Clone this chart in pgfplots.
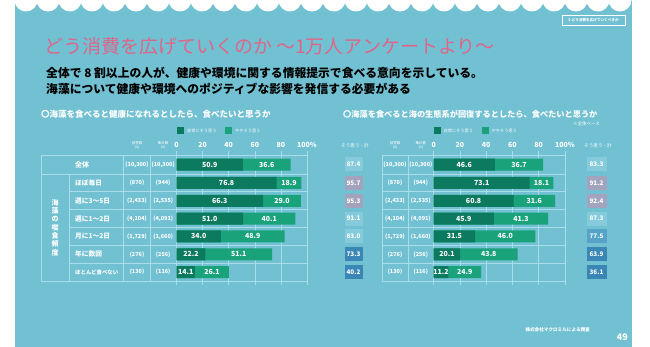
\documentclass[border=0pt]{standalone}
\usepackage{pgfplots}
\pgfplotsset{compat=1.18}
\usepackage{pgfplotstable}
\usepackage{fontspec}
\setmainfont{Noto Sans CJK JP}
\definecolor{bgblue}{HTML}{71C1D3}
\definecolor{gridc}{HTML}{A9DDE9}
\definecolor{dkg}{HTML}{0C7A5E}
\definecolor{ltg}{HTML}{1AA27B}
\definecolor{pinkc}{HTML}{DE6688}
\definecolor{boxlt}{HTML}{85CBDB}
\definecolor{boxgr}{HTML}{A2A4BE}
\definecolor{boxdk}{HTML}{3A87B5}
\definecolor{boxmd}{HTML}{55A3C9}

\pgfplotstableread{
y a b
164.5 50.9 36.6
182.9 76.8 18.9
200.8 66.3 29.0
218.6 51.0 40.1
236.4 34.0 48.9
254.3 22.2 51.1
272.1 14.1 26.1
}\health
\pgfplotstableread{
y a b
164.5 46.6 36.7
182.9 73.1 18.1
200.8 60.8 31.6
218.6 45.9 41.3
236.4 31.5 46.0
254.3 20.1 43.8
272.1 11.2 24.9
}\eco

\pgfplotsset{
  barchart/.style={
    anchor=south west, scale only axis,
    height=126pt, xmin=0, xmax=100, ymin=155, ymax=281, y dir=reverse,
    axis line style={draw=none},
    ytick=\empty,
    xtick={0,20,40,60,80,100},
    xticklabels={0,20,40,60,80,100\%},
    xticklabel pos=right,
    /pgf/number format/assume math mode=true,
    tick align=outside, major tick length=4pt,
    tick style={draw=gridc, line width=0.5pt},
    xticklabel style={font=\bfseries\fontsize{7}{7}\selectfont, text=white},
    xmajorgrids, grid style={draw=gridc, line width=0.6pt},
    clip=false,
  },
  seg/.style={xbar, bar width=12pt, bar shift=0pt, draw=none},
  lab/.style={draw=none, mark=none,
    nodes near coords={\pgfmathprintnumber[fixed,fixed zerofill,precision=1,assume math mode=true]{\pgfplotspointmeta}},
    point meta=explicit,
    every node near coord/.style={anchor=center, text=white, inner sep=0pt, font=\bfseries\fontsize{7}{7}\selectfont}},
}

\begin{document}
\begin{tikzpicture}[x=1pt,y=-1pt]
\useasboundingbox (0,0) rectangle (650,347);
\fill[white] (0,0) rectangle (650,347);
\fill[bgblue] (15,0) rectangle (632,347);
\begin{scope}
\clip (15,0) rectangle (632,20);
\foreach \i in {0,...,27} \fill[white] ({26+22*\i},0) circle (11.5pt);
\end{scope}
% section tag
\draw[white, line width=0.4pt] (562,15) rectangle (625,25);
\node[text=white, font=\bfseries\fontsize{3.6}{4}\selectfont] at (593.5,20) {3.どう消費を広げていくべきか};
% titles
\node[anchor=west, text=pinkc, inner sep=0pt, font=\fontsize{19}{19}\selectfont] at (44,46) {どう消費を広げていくのか ～1万人アンケートより～};
\node[anchor=west, inner sep=0pt, font=\bfseries\fontsize{11.8}{11.8}\selectfont] at (46,73) {全体で 8 割以上の人が、健康や環境に関する情報提示で食べる意向を示している。};
\node[anchor=west, inner sep=0pt, font=\bfseries\fontsize{11.8}{11.8}\selectfont] at (46,89) {海藻について健康や環境へのポジティブな影響を発信する必要がある};
\node[anchor=west, inner sep=0pt, text=white, font=\bfseries\fontsize{8.5}{8.5}\selectfont] at (41,114) {〇海藻を食べると健康になれるとしたら、食べたいと思うか};
\node[anchor=west, inner sep=0pt, text=white, font=\bfseries\fontsize{8.2}{8.2}\selectfont] at (343,114) {〇海藻を食べると海の生態系が回復するとしたら、食べたいと思うか};
\node[anchor=east, inner sep=0pt, text=white, font=\fontsize{4.5}{4.5}\selectfont] at (600,124) {※全体ベース};
% legends
\fill[dkg] (177,127.5) rectangle (184,134.5);
\node[anchor=west, inner sep=0pt, text=white, font=\fontsize{4.2}{4.2}\selectfont] at (187,131) {非常にそう思う};
\fill[ltg] (225,127.5) rectangle (232,134.5);
\node[anchor=west, inner sep=0pt, text=white, font=\fontsize{4.2}{4.2}\selectfont] at (235,131) {ややそう思う};
\fill[dkg] (433.5,127.5) rectangle (440.5,134.5);
\node[anchor=west, inner sep=0pt, text=white, font=\fontsize{4.2}{4.2}\selectfont] at (443.5,131) {非常にそう思う};
\fill[ltg] (481.5,127.5) rectangle (488.5,134.5);
\node[anchor=west, inner sep=0pt, text=white, font=\fontsize{4.2}{4.2}\selectfont] at (491.5,131) {ややそう思う};
% column headers
\foreach \x/\t in {137/回答数, 163.2/集計数, 395/回答数, 420.8/集計数}
  \node[text=white, align=center, inner sep=0pt, font=\fontsize{3.5}{4.2}\selectfont] at (\x,145.5) {\t\\(n)};
\node[text=white, inner sep=0pt, font=\fontsize{4.6}{4.6}\selectfont] at (355,146) {そう思う・計};
\node[text=white, inner sep=0pt, font=\fontsize{4.6}{4.6}\selectfont] at (598,146) {そう思う・計};
% table lines left
\begin{scope}[draw=gridc, line width=0.6pt]
\draw (41,155) -- (307,155);
\draw (41,174) -- (307,174);
\foreach \y in {191.8,209.7,227.5,245.3,263.2} \draw (69,\y) -- (307,\y);
\draw (41,281) -- (307,281);
\draw (41,155) -- (41,281);
\draw (69,174) -- (69,281);
\foreach \x in {123.5,150,176.5} \draw (\x,155) -- (\x,281);
% right
\foreach \y in {155,174,191.8,209.7,227.5,245.3,263.2,281} \draw (382,\y) -- (565,\y);
\foreach \x in {382,408,433.7} \draw (\x,155) -- (\x,281);
\end{scope}
% row labels
\node[text=white, font=\bfseries\fontsize{7}{7}\selectfont] at (82,164.5) {全体};
\node[text=white, align=center, font=\bfseries\fontsize{7}{8.3}\selectfont] at (55,227.5) {海\\藻\\の\\喫\\食\\頻\\度};
\foreach \y/\t in {182.9/ほぼ毎日, 200.8/週に3～5日, 218.6/週に1～2日, 236.4/月に1～2日, 254.3/年に数回}
  \node[anchor=west, inner sep=0pt, text=white, font=\bfseries\fontsize{6.7}{6.7}\selectfont] at (75,\y) {\t};
\node[anchor=west, inner sep=0pt, text=white, font=\bfseries\fontsize{5.4}{5.4}\selectfont] at (75,272.1) {ほとんど食べない};
% n columns
\foreach \y/\p/\q in {164.5/{10,300}/{10,300}, 182.9/870/944, 200.8/{2,433}/{2,535}, 218.6/{4,104}/{4,091}, 236.4/{1,729}/{1,660}, 254.3/276/256, 272.1/130/116}{
  \node[text=white, inner sep=0pt, font=\bfseries\fontsize{5.5}{5.5}\selectfont] at (137,\y) {(\p)};
  \node[text=white, inner sep=0pt, font=\bfseries\fontsize{5.5}{5.5}\selectfont] at (163.2,\y) {(\q)};
  \node[text=white, inner sep=0pt, font=\bfseries\fontsize{5.5}{5.5}\selectfont] at (395,\y) {(\p)};
  \node[text=white, inner sep=0pt, font=\bfseries\fontsize{5.5}{5.5}\selectfont] at (420.8,\y) {(\q)};
}
% total boxes
\foreach \y/\v/\c in {164.5/87.4/boxlt, 182.9/95.7/boxgr, 200.8/95.3/boxgr, 218.6/91.1/boxlt, 236.4/83.0/boxlt, 254.3/73.3/boxdk, 272.1/40.2/boxdk}
  \node[fill=\c, text=white, minimum width=18pt, minimum height=14pt, inner sep=0pt, font=\bfseries\fontsize{6.3}{6.3}\selectfont] at (353.5,\y) {\v};
\foreach \y/\v/\c in {164.5/83.3/boxlt, 182.9/91.2/boxgr, 200.8/92.4/boxgr, 218.6/87.3/boxlt, 236.4/77.5/boxmd, 254.3/63.9/boxdk, 272.1/36.1/boxdk}
  \node[fill=\c, text=white, minimum width=20pt, minimum height=14pt, inner sep=0pt, font=\bfseries\fontsize{6.3}{6.3}\selectfont] at (596.5,\y) {\v};
% footer
\node[anchor=east, inner sep=0pt, text=white, font=\bfseries\fontsize{4.6}{4.6}\selectfont] at (590,330) {株式会社マクロミルによる調査};
\node[anchor=east, inner sep=0pt, text=white, font=\bfseries\fontsize{9}{9}\selectfont] at (628,337) {49};

% left chart
\begin{axis}[barchart, at={(176.5pt,-281pt)}, width=130.5pt]
\addplot[seg, fill=ltg] table[x expr=\thisrow{a}+\thisrow{b}, y=y] {\health};
\addplot[seg, fill=dkg] table[x=a, y=y] {\health};
\addplot[lab] table[x expr=\thisrow{a}/2, y=y, meta=a] {\health};
\addplot[lab] table[x expr=\thisrow{a}+\thisrow{b}/2, y=y, meta=b] {\health};
\end{axis}
% right chart
\begin{axis}[barchart, at={(433.7pt,-281pt)}, width=131.3pt]
\addplot[seg, fill=ltg] table[x expr=\thisrow{a}+\thisrow{b}, y=y] {\eco};
\addplot[seg, fill=dkg] table[x=a, y=y] {\eco};
\addplot[lab] table[x expr=\thisrow{a}/2, y=y, meta=a] {\eco};
\addplot[lab] table[x expr=\thisrow{a}+\thisrow{b}/2, y=y, meta=b] {\eco};
\end{axis}
\end{tikzpicture}
\end{document}
